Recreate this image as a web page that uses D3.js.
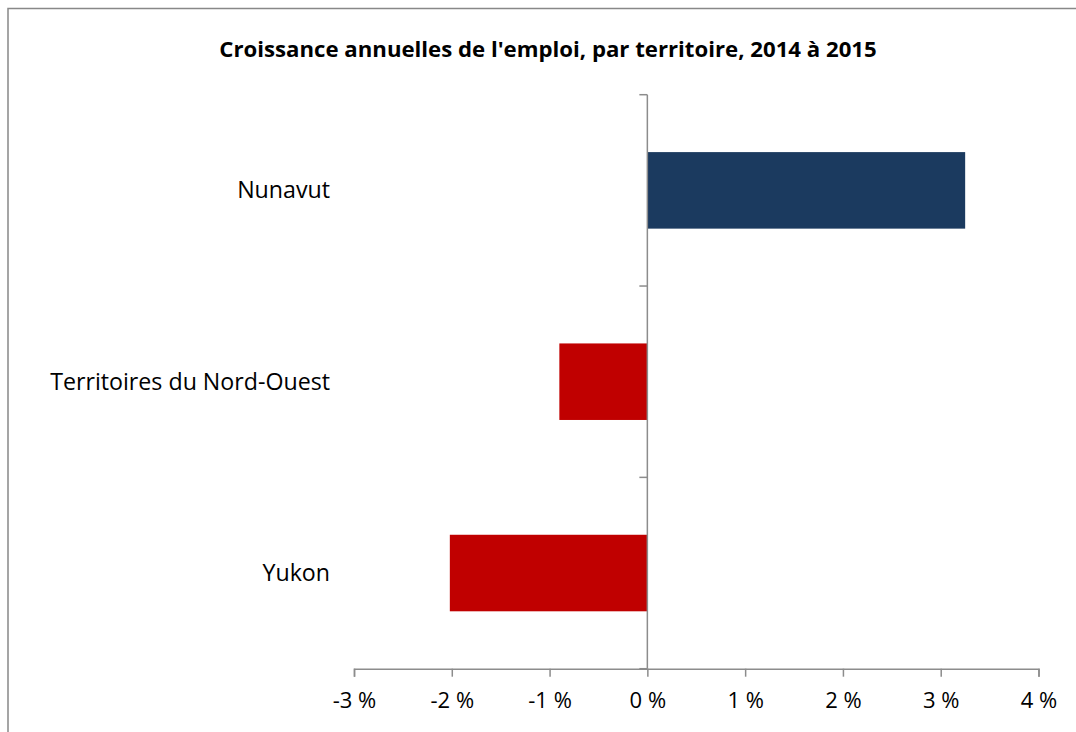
<!DOCTYPE html>
<html>
<head>
<meta charset="utf-8">
<script src="https://cdn.jsdelivr.net/npm/d3@7"></script>
<style>
	body { margin: 0; background: #fff; }
	svg { display: block; font-family: "Open Sans", sans-serif; }
</style>
</head>
<body>
<div id="chart"></div>
<script>
// data
const categories = ["Nunavut", "Territoires du Nord-Ouest", "Yukon"];
const growth = [3.25, -0.9, -2.02];
const tickValues = [-3, -2, -1, 0, 1, 2, 3, 4];
const title = "Croissance annuelles de l'emploi, par territoire, 2014 à 2015";

const width = 1076;
const height = 732;
const axisColor = "#8c8c8c";

const svg = d3
	.select("#chart")
	.append("svg")
	.attr("width", width)
	.attr("height", height);

// outer chart border (runs off the right and bottom edges)
svg.append("rect")
	.attr("x", 8)
	.attr("y", 8.5)
	.attr("width", 1100)
	.attr("height", 760)
	.attr("fill", "none")
	.attr("stroke", "#888")
	.attr("stroke-width", 1.5);

svg.append("text")
	.attr("x", 548)
	.attr("y", 57)
	.attr("text-anchor", "middle")
	.attr("font-size", 22.2)
	.attr("font-weight", "bold")
	.attr("fill", "#000")
	.text(title);

const x = d3.scaleLinear().domain([-3, 4]).range([354, 1038.5]);

const y = d3
	.scaleBand()
	.domain(categories)
	.range([94.7, 668.7])
	.paddingInner(0.6)
	.paddingOuter(0.3);

const colour = (v) => (v < 0 ? "#c00000" : "#1b3a5f");

// bars
svg.append("g")
	.selectAll("rect")
	.data(categories)
	.enter()
	.append("rect")
	.attr("x", (d, i) => Math.min(x(0), x(growth[i])))
	.attr("y", (d) => y(d))
	.attr("width", (d, i) => Math.abs(x(growth[i]) - x(0)))
	.attr("height", y.bandwidth())
	.attr("fill", (d, i) => colour(growth[i]));

// x axis at the bottom
const xAxis = svg
	.append("g")
	.attr("transform", `translate(0, ${y.range()[1]})`)
	.call(
		d3
			.axisBottom(x)
			.tickValues(tickValues)
			.tickSize(8)
			.tickPadding(16)
			.tickFormat((d) => d + " %")
	);

xAxis.select(".domain").attr("stroke", axisColor).attr("stroke-width", 1.5);
xAxis.selectAll(".tick line").attr("stroke", axisColor).attr("stroke-width", 1.5);
xAxis.selectAll(".tick text")
	.attr("font-size", 22)
	.attr("fill", "#000")
	.attr("font-family", "Open Sans, sans-serif");

// vertical axis at zero, ticks between categories
const step = y.step();
const yStart = y.range()[0];
const boundaries = d3.range(categories.length + 1).map((i) => yStart + i * step);

svg.append("line")
	.attr("x1", x(0))
	.attr("x2", x(0))
	.attr("y1", yStart)
	.attr("y2", y.range()[1])
	.attr("stroke", axisColor)
	.attr("stroke-width", 1.5);

svg.append("g")
	.selectAll("line")
	.data(boundaries)
	.enter()
	.append("line")
	.attr("x1", x(0) - 8)
	.attr("x2", x(0))
	.attr("y1", (d) => d)
	.attr("y2", (d) => d)
	.attr("stroke", axisColor)
	.attr("stroke-width", 1.5);

// category labels, right aligned left of the plot
svg.append("g")
	.selectAll("text")
	.data(categories)
	.enter()
	.append("text")
	.attr("x", 330)
	.attr("y", (d) => y(d) + y.bandwidth() / 2)
	.attr("dy", "0.35em")
	.attr("text-anchor", "end")
	.attr("font-size", 23.2)
	.attr("fill", "#000")
	.text((d) => d);
</script>
</body>
</html>
